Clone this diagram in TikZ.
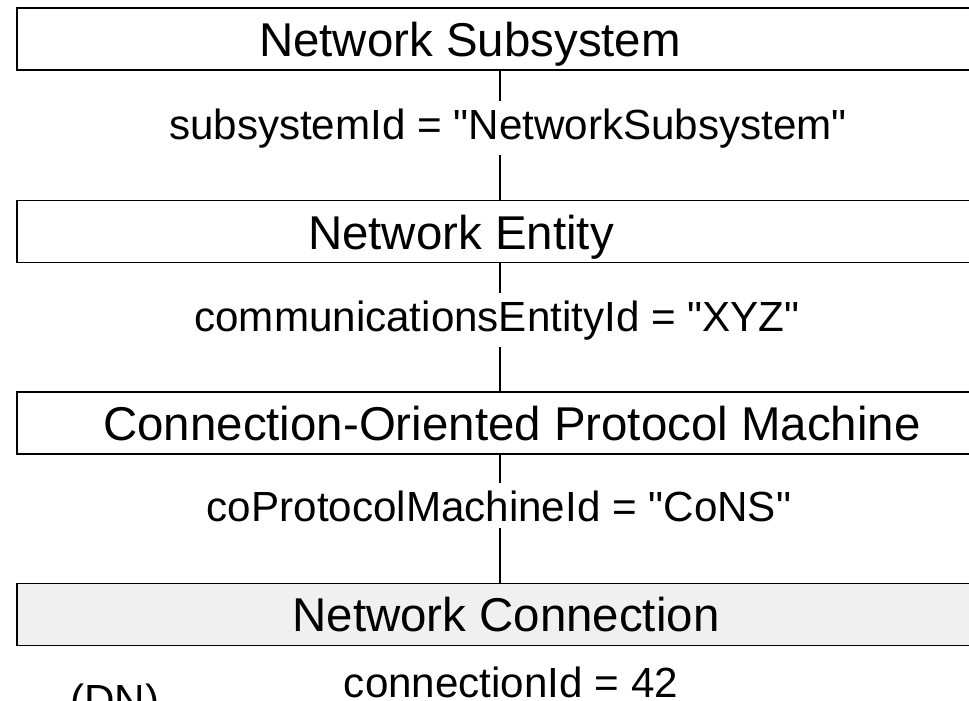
\documentclass[tikz,border=0pt]{standalone}
\usepackage{fontspec}
\setmainfont{Liberation Sans}[Ligatures=TeXOff]
\usepackage{tikz}
\usetikzlibrary{positioning, calc}

\begin{document}
\begin{tikzpicture}[
        x=0.02cm, y=-0.02cm,
        layer/.style={
            rectangle,
            draw,
            line width=1.1pt,
            anchor=west,
            minimum width=20cm,
            minimum height=1.24cm
        },
        layertext/.style={
            anchor=base,
            inner sep=0pt,
            font=\fontsize{27}{32}\selectfont
        },
        idlabel/.style={
            anchor=base,
            fill=white,
            inner xsep=2pt,
            inner ysep=4pt,
            font=\fontsize{24}{29}\selectfont
        },
        link/.style={
            line width=0.9pt
        }
    ]

    \useasboundingbox (0,0) rectangle (969,700);
    \clip (0,0) rectangle (969,700);

    % --------------------------------------------------------
    % Containment layers
    % --------------------------------------------------------

    \node[layer] (subsystem) at (16,39) {};
    \node[layer] (entity) at (16,231.5) {};
    \node[layer] (machine) at (16,423) {};
    \node[layer, fill=gray!12] (connection) at (16,614.5) {};

    \node[layertext] (subsystemText) at (470,56)
        {Network Subsystem};
    \node[layertext] (entityText) at (461,249)
        {Network Entity};
    \node[layertext] (machineText) at (512,440)
        {Connection-Oriented Protocol Machine};
    \node[layertext] (connectionText) at (506,631)
        {Network Connection};

    % --------------------------------------------------------
    % Naming links
    % --------------------------------------------------------

    \coordinate (spine) at (500,0);

    \draw[link]
        (subsystem.south -| spine) -- (entity.north -| spine);

    \draw[link]
        (entity.south -| spine) -- (machine.north -| spine);

    \draw[link]
        (machine.south -| spine) -- (connection.north -| spine);

    % --------------------------------------------------------
    % Relative names
    % --------------------------------------------------------

    \node[idlabel] (subsystemId) at (508,139)
        {subsystemId = "NetworkSubsystem"};
    \node[idlabel] (entityId) at (497,331)
        {communicationsEntityId = "XYZ"};
    \node[idlabel] (machineId) at (499,521)
        {coProtocolMachineId = "CoNS"};
    \node[idlabel] (connectionId) at (511,697)
        {connectionId = 42};

    \node[idlabel, anchor=base east] (dnName) at (163,714)
        {(DN)};

\end{tikzpicture}
\end{document}
